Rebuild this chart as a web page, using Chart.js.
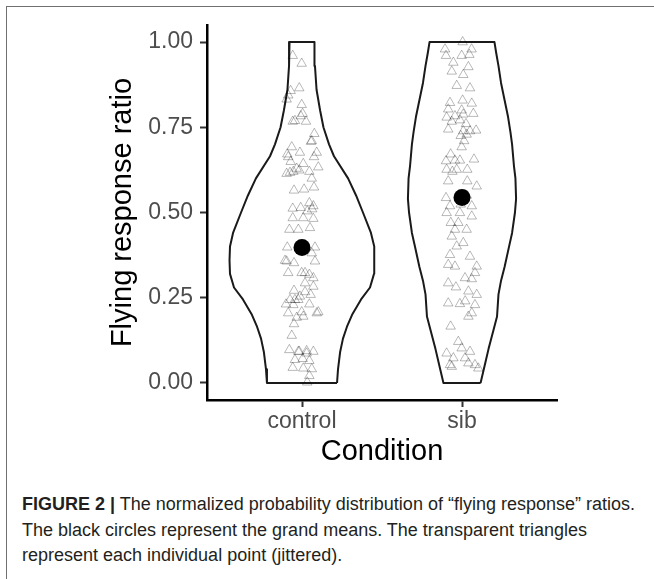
<!DOCTYPE html>
<html>
<head>
<meta charset="utf-8">
<script src="https://cdn.jsdelivr.net/npm/chart.js@4"></script>
<style>
  body { margin: 0; background: #fff; }
  #wrap { position: relative; width: 654px; height: 579px; overflow: hidden; }
  #frame { position: absolute; left: 6px; top: 6px; width: 700px; height: 600px;
           border-left: 1.5px solid #707070; border-top: 1.5px solid #707070; }
  #c { position: absolute; left: 0; top: 0; }
  #caption { position: absolute; left: 22px; top: 492px; width: 632px; white-space: nowrap;
             font-family: "Liberation Sans", Arial, sans-serif; font-size: 18px;
             line-height: 25.5px; color: #231f20; }
  #caption b { font-weight: bold; }
</style>
</head>
<body>
<div id="wrap">
  <div id="frame"></div>
  <canvas id="c" width="654" height="480"></canvas>
  <div id="caption"><b>FIGURE 2 |</b> The normalized probability distribution of “flying response” ratios.<br>The black circles represent the grand means. The transparent triangles<br>represent each individual point (jittered).</div>
</div>
<script>
// categories sit at x = 1 and x = 2 on a linear scale
const categories = ['control', 'sib'];
const yTicks = [0, 0.25, 0.5, 0.75, 1];
const groupMeans = [0.397, 0.544];

// violin outlines: ratio levels and half widths (category units)
const controlViolinY = [0, 0.04, 0.09, 0.13, 0.165, 0.2, 0.245, 0.28, 0.32, 0.36, 0.40, 0.44, 0.50, 0.55, 0.60, 0.665, 0.70, 0.75, 0.80, 0.86, 0.93, 1.0];
const controlViolinHalf = [0.219, 0.225, 0.238, 0.256, 0.281, 0.313, 0.369, 0.425, 0.45, 0.453, 0.45, 0.431, 0.381, 0.338, 0.288, 0.2, 0.169, 0.134, 0.113, 0.091, 0.081, 0.078];
const sibViolinY = [0, 0.05, 0.10, 0.15, 0.195, 0.26, 0.30, 0.34, 0.40, 0.44, 0.50, 0.54, 0.60, 0.635, 0.70, 0.735, 0.78, 0.83, 0.88, 0.93, 0.97, 1.0];
const sibViolinHalf = [0.116, 0.141, 0.166, 0.194, 0.219, 0.228, 0.244, 0.266, 0.294, 0.313, 0.331, 0.338, 0.334, 0.325, 0.313, 0.303, 0.288, 0.266, 0.244, 0.228, 0.213, 0.203];

// individual ratios and their jitter (category units)
const controlY = [0.960,0.937,0.857,0.865,0.844,0.832,0.816,0.790,0.783,0.769,0.767,0.767,0.731,0.710,0.708,0.692,0.676,0.676,0.671,0.663,0.663,0.643,0.633,0.649,0.629,0.620,0.617,0.614,0.620,0.624,0.600,0.574,0.565,0.568,0.512,0.514,0.528,0.519,0.504,0.510,0.484,0.484,0.482,0.450,0.450,0.455,0.398,0.398,0.381,0.359,0.357,0.357,0.352,0.323,0.323,0.323,0.318,0.308,0.293,0.283,0.271,0.267,0.259,0.254,0.244,0.244,0.244,0.231,0.229,0.231,0.205,0.205,0.208,0.208,0.192,0.195,0.173,0.139,0.097,0.092,0.092,0.094,0.092,0.087,0.068,0.071,0.065,0.045,0.043,0.041,0.021,0.002];
const controlJitter = [-0.058,-0.002,-0.071,-0.017,-0.086,-0.096,-0.002,0.004,-0.008,-0.044,-0.058,0.025,0.077,0.061,0.056,-0.064,-0.013,0.092,-0.092,-0.086,0.075,0.008,0.102,-0.071,-0.033,0.046,-0.075,-0.096,-0.054,-0.017,0.061,0.075,-0.050,0.013,-0.058,-0.008,0.046,0.071,0.033,0.063,-0.058,0.008,0.071,-0.079,-0.023,0.050,-0.092,0.081,0.061,-0.106,-0.096,0.081,-0.050,-0.086,-0.002,0.019,0.046,0.071,0.019,0.071,-0.050,0.019,0.054,-0.013,-0.075,-0.023,-0.044,-0.100,-0.054,0.046,-0.086,0.092,-0.002,0.102,-0.033,0.008,-0.050,-0.064,-0.079,-0.017,0.071,0.029,-0.023,0.029,-0.044,0.004,0.046,-0.058,0.008,0.061,0.046,0.033];
const sibY = [1.000,0.979,0.979,0.960,0.960,0.963,0.940,0.927,0.914,0.904,0.872,0.865,0.829,0.820,0.822,0.803,0.800,0.790,0.779,0.783,0.788,0.767,0.771,0.760,0.744,0.739,0.739,0.741,0.725,0.729,0.710,0.692,0.671,0.651,0.653,0.653,0.656,0.626,0.626,0.626,0.620,0.592,0.592,0.577,0.550,0.543,0.519,0.524,0.519,0.499,0.499,0.489,0.470,0.470,0.450,0.450,0.430,0.411,0.401,0.376,0.371,0.347,0.342,0.342,0.323,0.308,0.305,0.293,0.281,0.269,0.259,0.240,0.234,0.232,0.229,0.205,0.195,0.166,0.121,0.087,0.102,0.092,0.073,0.073,0.053,0.058,0.053,0.043,0.048];
const sibJitter = [0.004,-0.106,0.060,-0.100,-0.002,0.046,-0.054,0.040,-0.064,0.008,-0.033,0.050,0.004,0.061,-0.075,-0.086,-0.002,0.071,-0.096,-0.044,0.008,-0.064,-0.013,0.025,-0.086,0.008,0.050,0.088,-0.008,0.029,0.013,-0.002,-0.071,-0.100,-0.044,-0.013,0.075,-0.096,-0.033,0.033,-0.060,-0.086,0.033,0.092,0.030,-0.100,-0.075,-0.008,0.061,-0.096,-0.013,0.061,-0.023,-0.070,0.029,-0.044,-0.064,0.008,-0.033,-0.075,0.050,-0.086,0.092,-0.044,0.081,0.019,0.061,-0.086,-0.038,0.040,0.092,0.020,-0.086,-0.013,0.081,0.061,0.040,-0.071,-0.023,-0.096,-0.002,0.050,-0.054,0.019,-0.075,0.040,0.081,0.102,-0.064];

const FONT = '"Liberation Sans", Arial, sans-serif';

function violin(center, ys, half) {
  const right = ys.map((y, i) => ({ x: center + half[i], y }));
  const left = ys.map((y, i) => ({ x: center - half[i], y })).reverse();
  return right.concat(left, [right[0]]);
}
function jittered(center, ys, jit) {
  return ys.map((y, i) => ({ x: center + jit[i], y }));
}

const violinStyle = { borderColor: '#1a1a1a', borderWidth: 2, pointRadius: 0, showLine: true, fill: false, tension: 0, borderJoinStyle: 'round', order: 3 };
const pointStyle = { pointStyle: 'triangle', pointRadius: 5.5, borderWidth: 1, borderColor: 'rgba(0,0,0,0.28)', backgroundColor: 'rgba(0,0,0,0)', showLine: false, order: 2 };

new Chart(document.getElementById('c'), {
  type: 'scatter',
  data: {
    datasets: [
      { data: groupMeans.map((m, i) => ({ x: i + 1, y: m })), pointRadius: 8.5, backgroundColor: '#000', borderColor: '#000', borderWidth: 0, order: 1 },
      Object.assign({ data: jittered(1, controlY, controlJitter) }, pointStyle),
      Object.assign({ data: jittered(2, sibY, sibJitter) }, pointStyle),
      Object.assign({ data: violin(1, controlViolinY, controlViolinHalf) }, violinStyle),
      Object.assign({ data: violin(2, sibViolinY, sibViolinHalf) }, violinStyle)
    ]
  },
  options: {
    responsive: false,
    devicePixelRatio: 1,
    animation: false,
    clip: false,
    layout: { padding: { top: 25, right: 97, left: 0, bottom: 0 } },
    plugins: { legend: { display: false }, tooltip: { enabled: false } },
    scales: {
      x: {
        type: 'linear', min: 0.40625, max: 2.59375,
        afterBuildTicks: s => { s.ticks = categories.map((c, i) => ({ value: i + 1 })); },
        afterFit: s => { s.height = 80; },
        ticks: { callback: v => categories[v - 1], font: { family: FONT, size: 23 }, color: '#4d4d4d', padding: 1, maxRotation: 0 },
        grid: { drawOnChartArea: false, drawTicks: true, tickLength: 7, tickColor: '#333', tickWidth: 2 },
        border: { color: '#000', width: 2.5 },
        title: { display: true, text: 'Condition', font: { family: FONT, size: 29 }, color: '#000', padding: { top: 0, bottom: 10.6 } }
      },
      y: {
        type: 'linear', min: -0.05, max: 1.05,
        afterBuildTicks: s => { s.ticks = yTicks.map(v => ({ value: v })); },
        afterFit: s => { s.width = 207; },
        ticks: { callback: v => v.toFixed(2), font: { family: FONT, size: 23 }, color: '#4d4d4d', padding: 7 },
        grid: { drawOnChartArea: false, drawTicks: true, tickLength: 7, tickColor: '#333', tickWidth: 2 },
        border: { color: '#000', width: 2.5 },
        title: { display: true, text: 'Flying response ratio', font: { family: FONT, size: 29 }, color: '#000', padding: { top: 105.6, bottom: 0 } }
      }
    }
  }
});
</script>
</body>
</html>
